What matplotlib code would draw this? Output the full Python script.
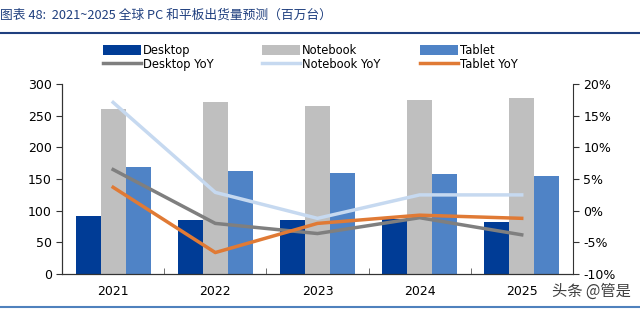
import numpy as np
import matplotlib
matplotlib.use('Agg')
import matplotlib.pyplot as plt
from matplotlib.lines import Line2D

plt.rcParams['font.family'] = ['DejaVu Sans', 'Noto Sans CJK SC']

years = ['2021', '2022', '2023', '2024', '2025']
desktop = [92, 86, 85, 87, 83]
notebook = [261, 272, 266, 275, 278]
tablet = [169, 163, 159, 158, 155]
desktop_yoy = [6.5, -2.0, -3.6, -1.1, -3.8]
notebook_yoy = [17.1, 2.9, -1.2, 2.5, 2.5]
tablet_yoy = [3.7, -6.6, -2.0, -0.7, -1.2]

fig = plt.figure(figsize=(6.4, 3.09), dpi=100)
ax = fig.add_axes([0.097, 0.113, 0.798, 0.615])
ax2 = ax.twinx()

x = np.arange(len(years))
w = 0.245
b1 = ax.bar(x - w, desktop, w, color='#003C96', label='Desktop')
b2 = ax.bar(x, notebook, w, color='#BFBFBF', label='Notebook')
b3 = ax.bar(x + w, tablet, w, color='#4F83C6', label='Tablet')

l1, = ax2.plot(x, desktop_yoy, color='#7F7F7F', lw=2.5, label='Desktop YoY')
l2, = ax2.plot(x, notebook_yoy, color='#C6D9F0', lw=2.5, label='Notebook YoY')
l3, = ax2.plot(x, tablet_yoy, color='#E07A35', lw=2.5, label='Tablet YoY')

ax.set_xlim(-0.5, 4.5)
ax.set_ylim(0, 300)
ax.set_yticks(range(0, 301, 50))
ax2.set_ylim(-10, 20)
ax2.set_yticks(range(-10, 21, 5))
ax2.set_yticklabels([f'{v}%' for v in range(-10, 21, 5)])

ax.set_xticks(x)
ax.set_xticklabels(years)
ax.set_xticks(np.arange(0.5, 4.5, 1), minor=True)
ax.tick_params(axis='x', which='major', length=0, labelsize=9, pad=8)
ax.tick_params(axis='x', which='minor', direction='in', length=4, color='#595959')
ax.tick_params(axis='y', labelsize=9, length=4, color='#333333')
ax2.tick_params(axis='y', labelsize=9, length=4, color='#333333')

for a in (ax, ax2):
    a.spines['top'].set_visible(False)
    for s in ('left', 'right', 'bottom'):
        a.spines[s].set_color('#333333')
        a.spines[s].set_linewidth(0.8)
ax.spines['right'].set_visible(False)

# one legend per column so the columns sit where they do in the original
for hs, xpos in [((b1, l1), 103), ((b2, l2), 262), ((b3, l3), 420)]:
    fig.legend(hs, [h.get_label() for h in hs], ncol=1,
               loc='upper left', bbox_to_anchor=(xpos / 640, 1 - 44 / 309),
               frameon=False, fontsize=8.3, handlelength=3.3, handleheight=0.9,
               handletextpad=0.15, labelspacing=0.05, borderpad=0,
               borderaxespad=0)

fig.text(0.0, 0.94, '图表 48:  2021~2025 全球 PC 和平板出货量预测（百万台）',
         color='#1F3F7F', fontsize=9.2, style='italic',
         family=['Noto Sans CJK SC', 'DejaVu Sans'])
fig.add_artist(Line2D([0, 1], [0.893, 0.893], color='#1F3F7F', lw=1.5))
fig.add_artist(Line2D([0, 1], [0.005, 0.005], color='#4F81BD', lw=1.5))
fig.text(0.985, 0.058, '头条 @管是', ha='right', va='center', color='#404040',
         fontsize=11, family=['Noto Sans CJK SC', 'DejaVu Sans'])

fig.savefig('out.png', dpi=100)
